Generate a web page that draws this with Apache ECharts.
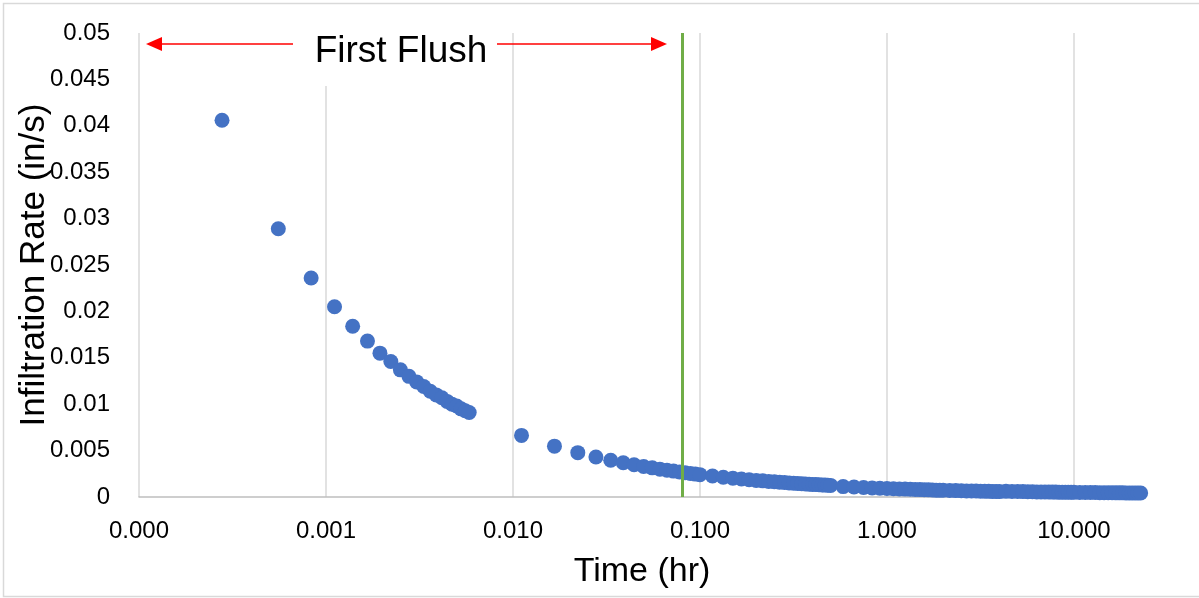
<!DOCTYPE html>
<html lang="en">
<head>
    <meta charset="UTF-8">
    <title>Infiltration Rate vs Time</title>
    <script src="https://cdn.jsdelivr.net/npm/echarts@6/dist/echarts.min.js"></script>
    <style>
        *{ margin: 0; padding: 0; }
        html, body{ width: 100%; height: 100%; background: #fff; }
        #chart{ width: 1199px; height: 598px; }
    </style>
</head>
<body>
<div id="chart"></div>
<script>
    // time (hr)
    var timeHr = [
        0.000278, 0.000556, 0.000833, 0.001111, 0.001389, 0.001667, 0.001944, 0.002222, 0.0025, 0.002778,
        0.003056, 0.003333, 0.003611, 0.003889, 0.004167, 0.004444, 0.004722, 0.005, 0.005278, 0.005556, 0.005833,
        0.01111, 0.01667, 0.02222, 0.02778, 0.03333, 0.03889, 0.04444, 0.05, 0.05556, 0.06111,
        0.06667, 0.07222, 0.07778, 0.08333, 0.08889, 0.09444, 0.1,
        0.1167, 0.1333, 0.15, 0.1667, 0.1833, 0.2, 0.2167, 0.2333, 0.25, 0.2667, 0.2833, 0.3,
        0.3167, 0.3333, 0.35, 0.3667, 0.3833, 0.4, 0.4167, 0.4333, 0.45, 0.4667, 0.4833, 0.5,
        0.5833, 0.6667, 0.75, 0.8333, 0.9167, 1.0, 1.0833, 1.1667, 1.25, 1.3333, 1.4167, 1.5,
        1.5833, 1.6667, 1.75, 1.8333, 1.9167, 2.0,
        2.1667, 2.3333, 2.5, 2.6667, 2.8333, 3.0, 3.1667, 3.3333, 3.5, 3.6667, 3.8333, 4.0,
        4.3333, 4.6667, 5.0, 5.3333, 5.6667, 6.0, 6.3333, 6.6667, 7.0, 7.3333, 7.6667, 8.0,
        8.3333, 8.6667, 9.0, 9.3333, 9.6667, 10.0,
        10.75, 11.5, 12.25, 13.0, 13.75, 14.5, 15.25, 16.0, 16.75, 17.5, 18.25, 19.0,
        19.75, 20.5, 21.25, 22.0, 22.75
    ];
    // infiltration rate (in/s)
    var rate = [
        0.0406, 0.0289, 0.0236, 0.0205, 0.0184, 0.0168, 0.0155, 0.0146, 0.0137, 0.0130,
        0.0124, 0.0119, 0.0114, 0.0110, 0.0107, 0.0103, 0.0100, 0.0098, 0.0095, 0.0093, 0.0091,
        0.00664, 0.00548, 0.00478, 0.00431, 0.00396, 0.00369, 0.00347, 0.00329, 0.00314, 0.00300,
        0.00289, 0.00279, 0.00270, 0.00262, 0.00254, 0.00247, 0.00241,
        0.00226, 0.00213, 0.00203, 0.00194, 0.00186, 0.00179, 0.00174, 0.00168, 0.00164, 0.00159, 0.00156, 0.00152,
        0.00149, 0.00146, 0.00143, 0.00140, 0.00138, 0.00136, 0.00134, 0.00132, 0.00130, 0.00128, 0.00126, 0.00125,
        0.00112, 0.00107, 0.00102, 0.00098, 0.00095, 0.00092, 0.00089, 0.00087, 0.00085, 0.00083, 0.00081, 0.00080,
        0.00078, 0.00077, 0.00076, 0.00074, 0.00073, 0.00072,
        0.00070, 0.00069, 0.00067, 0.00066, 0.00065, 0.00064, 0.00063, 0.00062, 0.00061, 0.00060, 0.00059, 0.00058,
        0.00061, 0.00060, 0.00059, 0.00058, 0.00057, 0.00056, 0.00055, 0.00055, 0.00054, 0.00054, 0.00053, 0.00053,
        0.00052, 0.00052, 0.00051, 0.00051, 0.00051, 0.00050,
        0.00049, 0.00049, 0.00048, 0.00048, 0.00047, 0.00047, 0.00046, 0.00046, 0.00045, 0.00045, 0.00045, 0.00044,
        0.00044, 0.00044, 0.00044, 0.00043, 0.00043
    ];
    // end of the first flush (5 min)
    var firstFlushEnd = 0.08333;

    var points = [];
    for (var i = 0; i < timeHr.length; i++) {
        points.push([timeHr[i], rate[i]]);
    }

    var font = 'Liberation Sans';
    var chart = echarts.init(document.getElementById('chart'));

    var option = {
        animation: false,
        backgroundColor: '#fff',
        grid: {
            left: 139,
            right: 54,
            top: 33,
            bottom: 101,
            outerBoundsMode: 'none'
        },
        xAxis: {
            type: 'log',
            logBase: 10,
            min: 0.0001,
            max: 24,
            name: 'Time (hr)',
            nameLocation: 'middle',
            nameGap: 58,
            nameMoveOverlap: false,
            nameTextStyle: { fontFamily: font, fontSize: 34, color: '#000' },
            axisLine: { show: true, lineStyle: { color: '#BFBFBF', width: 1.5 } },
            axisTick: { show: false },
            axisLabel: {
                fontFamily: font,
                fontSize: 24,
                color: '#000',
                margin: 22,
                showMaxLabel: false,
                formatter: function (v) { return v.toFixed(3); }
            },
            splitLine: {
                show: true,
                showMaxLine: false,
                lineStyle: { color: '#D9D9D9', width: 1.5 }
            }
        },
        yAxis: {
            type: 'value',
            min: 0,
            max: 0.05,
            interval: 0.005,
            name: 'Infiltration Rate (in/s)',
            nameLocation: 'middle',
            nameGap: 87,
            nameMoveOverlap: false,
            nameTextStyle: { fontFamily: font, fontSize: 35, color: '#000' },
            axisLine: { show: false },
            axisTick: { show: false },
            axisLabel: { fontFamily: font, fontSize: 24, color: '#000', margin: 29 },
            splitLine: { show: false }
        },
        series: [{
            type: 'scatter',
            data: points,
            symbol: 'circle',
            symbolSize: 15,
            itemStyle: { color: '#4472C4', opacity: 1 },
            markLine: {
                silent: true,
                symbol: ['none', 'none'],
                label: { show: false },
                lineStyle: { color: '#70AD47', width: 3, type: 'solid' },
                data: [{ xAxis: firstFlushEnd }]
            }
        }],
        graphic: [
            // outer frame
            {
                type: 'rect', z: 100, silent: true,
                shape: { x: 3.5, y: 3.5, width: 1220, height: 593 },
                style: { fill: 'none', stroke: '#D9D9D9', lineWidth: 1.5 }
            },
            // text box for the annotation
            {
                type: 'rect', z: 100, silent: true,
                shape: { x: 296, y: 22, width: 200, height: 64 },
                style: { fill: '#fff' }
            },
            {
                type: 'text', z: 101, silent: true,
                x: 401, y: 52,
                style: {
                    text: 'First Flush',
                    fontFamily: font, fontSize: 37, fill: '#000',
                    textAlign: 'center', textVerticalAlign: 'middle'
                }
            },
            // left arrow
            {
                type: 'line', z: 101, silent: true,
                shape: { x1: 293, y1: 44, x2: 160, y2: 44 },
                style: { stroke: '#FF0000', lineWidth: 1.5 }
            },
            {
                type: 'polygon', z: 101, silent: true,
                shape: { points: [[146, 44], [162, 37], [162, 51]] },
                style: { fill: '#FF0000' }
            },
            // right arrow
            {
                type: 'line', z: 101, silent: true,
                shape: { x1: 497, y1: 44, x2: 652, y2: 44 },
                style: { stroke: '#FF0000', lineWidth: 1.5 }
            },
            {
                type: 'polygon', z: 101, silent: true,
                shape: { points: [[667, 44], [651, 37], [651, 51]] },
                style: { fill: '#FF0000' }
            }
        ]
    };
    chart.setOption(option);
</script>
</body>
</html>
